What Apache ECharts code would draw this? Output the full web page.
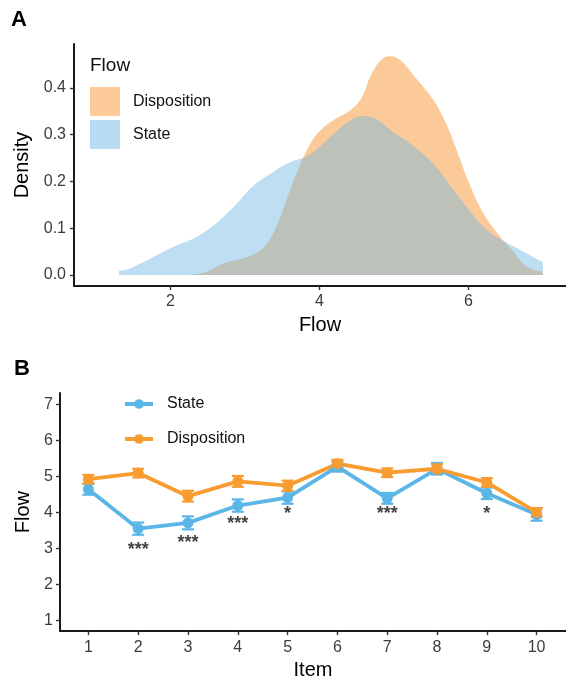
<!DOCTYPE html>
<html>
<head>
<meta charset="utf-8">
<script src="https://cdn.jsdelivr.net/npm/echarts@6/dist/echarts.min.js"></script>
<style>
  html, body { margin: 0; padding: 0; background: #fff; }
  #panel-a { width: 566px; height: 340px; }
  #panel-b { width: 566px; height: 345px; }
</style>
</head>
<body>
<div id="panel-a"></div>
<div id="panel-b"></div>
<script>
// panel A: density curves (x = Flow, y = density)
const stateDensityX = [1.31, 1.46, 2.0, 2.43, 2.81, 3.1, 3.35, 3.59, 3.83, 4.0, 4.17, 4.36, 4.58, 4.75, 4.99, 5.28, 5.53, 5.77, 6.01, 6.25, 6.49, 6.74, 7.0]
const stateDensity = [0.009, 0.014, 0.057, 0.089, 0.139, 0.189, 0.217, 0.24, 0.254, 0.274, 0.299, 0.324, 0.34, 0.334, 0.306, 0.274, 0.238, 0.189, 0.139, 0.096, 0.071, 0.05, 0.028]
const dispDensityX = [2.14, 2.43, 2.72, 3.1, 3.3, 3.44, 3.59, 3.73, 3.88, 4.02, 4.22, 4.41, 4.56, 4.7, 4.85, 4.97, 5.09, 5.28, 5.53, 5.72, 5.86, 6.01, 6.2, 6.39, 6.59, 6.78, 7.0]
const dispDensity = [0.0, 0.004, 0.025, 0.043, 0.068, 0.11, 0.174, 0.231, 0.281, 0.31, 0.334, 0.352, 0.377, 0.43, 0.463, 0.468, 0.459, 0.424, 0.374, 0.317, 0.26, 0.196, 0.132, 0.089, 0.053, 0.018, 0.007]
const densityXTicks = [2, 4, 6]
const densityYTicks = [0, 0.1, 0.2, 0.3, 0.4]

// panel B: item means with error bars
const items = [1, 2, 3, 4, 5, 6, 7, 8, 9, 10]
const stateMean = [4.64, 3.55, 3.71, 4.19, 4.41, 5.27, 4.39, 5.21, 4.53, 3.94]
const stateErr = [0.15, 0.17, 0.18, 0.17, 0.17, 0.14, 0.15, 0.16, 0.16, 0.17]
const dispMean = [4.92, 5.09, 4.45, 4.86, 4.74, 5.35, 5.10, 5.21, 4.83, 4.00]
const dispErr = [0.12, 0.12, 0.15, 0.15, 0.14, 0.11, 0.12, 0.12, 0.12, 0.12]
const sigLabels = ['', '***', '***', '***', '*', '', '***', '', '*', '']
const sigY = [null, 3.07, 3.27, 3.78, 4.07, null, 4.07, null, 4.07, null]
const flowTicks = [1, 2, 3, 4, 5, 6, 7]

const blue = '#5AB6E6'
const orange = '#F99C30'
const tickLabel = { fontSize: 16, color: '#3c3c3c', fontFamily: 'Liberation Sans' }
const axisLine = { onZero: false, lineStyle: { color: '#1a1a1a', width: 2 } }
const axisTick = { length: 4, lineStyle: { color: '#333', width: 1.4 } }

const pairs = (xs, ys) => xs.map((x, i) => [x, ys[i]])

const chartA = echarts.init(document.getElementById('panel-a'))
chartA.setOption({
  animation: false,
  textStyle: { fontFamily: 'Liberation Sans' },
  title: [
    { text: 'A', left: 11, top: 9, padding: 0, textStyle: { fontSize: 22, fontWeight: 'bold', color: '#000' } },
    { text: 'Flow', left: 90, top: 56, padding: 0, textStyle: { fontSize: 19, fontWeight: 'normal', color: '#111' } }
  ],
  legend: {
    orient: 'vertical',
    left: 90,
    top: 87,
    padding: 0,
    itemWidth: 30,
    itemHeight: 29,
    itemGap: 4,
    icon: 'rect',
    data: ['Disposition', 'State'],
    textStyle: { fontSize: 16, color: '#111', padding: [0, 0, 0, 8] }
  },
  grid: { left: 74, top: 44, width: 492, height: 242 },
  xAxis: {
    type: 'value',
    min: 0.707,
    max: 7.31,
    name: 'Flow',
    nameLocation: 'middle',
    nameGap: 29,
    nameTextStyle: { fontSize: 20, color: '#000' },
    axisLine: axisLine,
    axisTick: Object.assign({ customValues: densityXTicks }, axisTick),
    axisLabel: Object.assign({ customValues: densityXTicks, margin: 8 }, tickLabel),
    splitLine: { show: false }
  },
  yAxis: {
    type: 'value',
    min: -0.0235,
    max: 0.494,
    name: 'Density',
    nameLocation: 'middle',
    nameGap: 36,
    nameTextStyle: { fontSize: 20, color: '#000' },
    axisLine: Object.assign({ show: true }, axisLine),
    axisTick: Object.assign({ show: true, customValues: densityYTicks }, axisTick),
    axisLabel: Object.assign({ customValues: densityYTicks, margin: 8, formatter: v => v.toFixed(1) }, tickLabel),
    splitLine: { show: false }
  },
  series: [
    {
      name: 'Disposition',
      type: 'line',
      data: pairs(dispDensityX, dispDensity),
      smooth: 0.4,
      showSymbol: false,
      lineStyle: { width: 0 },
      itemStyle: { color: '#FDCB9A' },
      areaStyle: { color: 'rgba(250, 150, 50, 0.5)', origin: 'auto', opacity: 1 }
    },
    {
      name: 'State',
      type: 'line',
      data: pairs(stateDensityX, stateDensity),
      smooth: 0.4,
      showSymbol: false,
      lineStyle: { width: 0 },
      itemStyle: { color: '#BADCF2' },
      areaStyle: { color: 'rgba(111, 182, 228, 0.45)', origin: 'auto', opacity: 1 }
    }
  ]
})

function errorBars (means, errs, color) {
  return {
    type: 'custom',
    data: items.map((x, i) => [x, means[i] - errs[i], means[i] + errs[i]]),
    renderItem (params, api) {
      const lo = api.coord([api.value(0), api.value(1)])
      const hi = api.coord([api.value(0), api.value(2)])
      const w = 6
      const style = { stroke: color, lineWidth: 2.2 }
      return {
        type: 'group',
        children: [
          { type: 'line', shape: { x1: lo[0], y1: lo[1], x2: hi[0], y2: hi[1] }, style },
          { type: 'line', shape: { x1: lo[0] - w, y1: lo[1], x2: lo[0] + w, y2: lo[1] }, style },
          { type: 'line', shape: { x1: hi[0] - w, y1: hi[1], x2: hi[0] + w, y2: hi[1] }, style }
        ]
      }
    }
  }
}

const chartB = echarts.init(document.getElementById('panel-b'))
chartB.setOption({
  animation: false,
  textStyle: { fontFamily: 'Liberation Sans' },
  title: { text: 'B', left: 14, top: 18, padding: 0, textStyle: { fontSize: 22, fontWeight: 'bold', color: '#000' } },
  legend: {
    orient: 'vertical',
    left: 123,
    top: 56,
    padding: 0,
    itemWidth: 28,
    itemHeight: 12,
    itemGap: 19,
    lineStyle: { width: 4 },
    data: ['State', 'Disposition'],
    textStyle: { fontSize: 16, color: '#111', padding: [0, 0, 0, 9] }
  },
  grid: { left: 60, top: 53, width: 506, height: 242 },
  xAxis: {
    type: 'value',
    min: 0.43,
    max: 10.59,
    name: 'Item',
    nameLocation: 'middle',
    nameGap: 28,
    nameTextStyle: { fontSize: 20, color: '#000' },
    axisLine: axisLine,
    axisTick: Object.assign({ customValues: items }, axisTick),
    axisLabel: Object.assign({ customValues: items, margin: 8 }, tickLabel),
    splitLine: { show: false }
  },
  yAxis: {
    type: 'value',
    min: 0.71,
    max: 7.31,
    name: 'Flow',
    nameLocation: 'middle',
    nameGap: 24,
    nameTextStyle: { fontSize: 20, color: '#000' },
    axisLine: Object.assign({ show: true }, axisLine),
    axisTick: Object.assign({ show: true, customValues: flowTicks }, axisTick),
    axisLabel: Object.assign({ customValues: flowTicks, margin: 7 }, tickLabel),
    splitLine: { show: false }
  },
  series: [
    {
      name: 'State',
      type: 'line',
      data: pairs(items, stateMean),
      symbol: 'circle',
      symbolSize: 11,
      color: blue,
      lineStyle: { width: 3.8 }
    },
    errorBars(stateMean, stateErr, blue),
    {
      name: 'Disposition',
      type: 'line',
      data: pairs(items, dispMean),
      symbol: 'circle',
      symbolSize: 11,
      color: orange,
      lineStyle: { width: 3.8 }
    },
    errorBars(dispMean, dispErr, orange),
    {
      type: 'scatter',
      symbolSize: 0,
      data: items.map((x, i) => [x, sigY[i]]).filter(d => d[1] !== null),
      label: {
        show: true,
        position: 'inside',
        offset: [0, 4],
        fontSize: 18,
        fontWeight: 'bold',
        color: '#111',
        formatter: p => sigLabels[items.indexOf(p.value[0])]
      }
    }
  ]
})
</script>
</body>
</html>
